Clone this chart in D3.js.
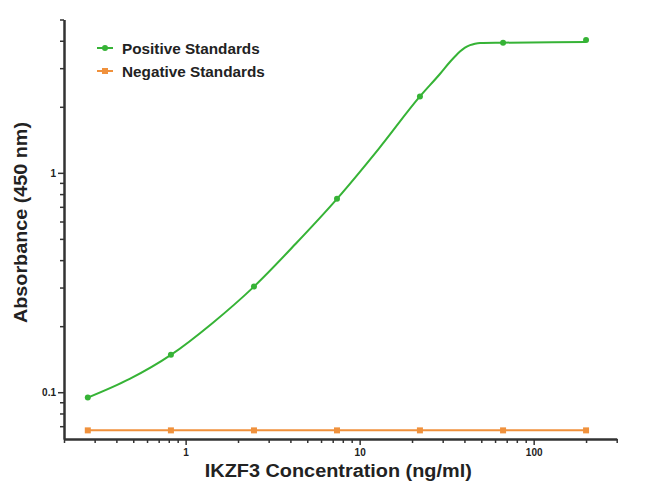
<!DOCTYPE html>
<html>
<head>
<meta charset="utf-8">
<script src="https://cdn.jsdelivr.net/npm/d3@7"></script>
<style>
  html, body { margin: 0; padding: 0; background: #fff; }
  svg { display: block; font-family: Arial, "Liberation Sans", sans-serif; }
</style>
</head>
<body>
<svg id="chart" width="650" height="494"></svg>
<script>
// ---- data ----
const concentrations = [0.274, 0.823, 2.47, 7.41, 22.2, 66.7, 200];
const positiveValues = [0.0945, 0.148, 0.303, 0.761, 2.23, 3.92, 4.03];
const negativeValues = [0.067, 0.067, 0.067, 0.067, 0.067, 0.067, 0.067];
// fitted standard curve
const fitConc = [0.274, 0.477, 0.823, 1.43, 2.47, 4.29, 7.41, 12.9, 22.2, 29.0, 33.0, 35.3, 37.7, 40.3, 43.1, 46.0, 49.2, 66.7, 200];
const fitAbs  = [0.0945, 0.115, 0.148, 0.207, 0.303, 0.475, 0.761, 1.29, 2.23, 2.83, 3.20, 3.39, 3.57, 3.72, 3.82, 3.88, 3.91, 3.92, 3.95];
const xMajorTicks = [1, 10, 100];
const xMinorTicks = [0.2, 0.3, 0.4, 0.5, 0.6, 0.7, 0.8, 0.9, 2, 3, 4, 5, 6, 7, 8, 9, 20, 30, 40, 50, 60, 70, 80, 90, 200, 300];
const yMajorTicks = [0.1, 1];
const yMinorTicks = [0.07, 0.08, 0.09, 0.2, 0.3, 0.4, 0.5, 0.6, 0.7, 0.8, 0.9, 2, 3, 4, 5];
const seriesNames = ["Positive Standards", "Negative Standards"];
const xTitle = "IKZF3 Concentration (ng/ml)";
const yTitle = "Absorbance (450 nm)";

// ---- layout ----
const green = "#36b336", orange = "#f0913c", axisColor = "#333";
const svg = d3.select("#chart");
const x = d3.scaleLog().domain([0.2, 300]).range([64, 616.7]);
const y = d3.scaleLog().domain([0.0612, 5]).range([439, 19.5]);

function styleAxis(g) {
  g.select(".domain").attr("stroke", axisColor).attr("stroke-width", 2);
  g.selectAll(".tick line").attr("stroke", axisColor).attr("stroke-width", 1.5);
  g.selectAll(".tick text").attr("fill", "#222").attr("font-size", 10).attr("font-weight", "bold");
}

// minor ticks
svg.append("g").attr("transform", "translate(0,439)")
  .call(d3.axisBottom(x).tickValues(xMinorTicks).tickFormat("").tickSize(4).tickSizeOuter(0))
  .call(styleAxis);
svg.append("g").attr("transform", "translate(64,0)")
  .call(d3.axisLeft(y).tickValues(yMinorTicks).tickFormat("").tickSize(4).tickSizeOuter(0))
  .call(styleAxis);
// major ticks
svg.append("g").attr("transform", "translate(0,439)")
  .call(d3.axisBottom(x).tickValues(xMajorTicks).tickFormat(d3.format("")).tickSize(6).tickSizeOuter(0).tickPadding(4))
  .call(styleAxis);
svg.append("g").attr("transform", "translate(64,0)")
  .call(d3.axisLeft(y).tickValues(yMajorTicks).tickFormat(d => String(d)).tickSize(6).tickSizeOuter(0).tickPadding(2))
  .call(styleAxis);

// fitted curve
const fitData = fitConc.map((c, i) => [c, fitAbs[i]]);
svg.append("path").datum(fitData)
  .attr("fill", "none").attr("stroke", green).attr("stroke-width", 2)
  .attr("d", d3.line().x(d => x(d[0])).y(d => y(d[1])).curve(d3.curveMonotoneX));

// negative line
const negData = concentrations.map((c, i) => [c, negativeValues[i]]);
svg.append("path").datum(negData)
  .attr("fill", "none").attr("stroke", orange).attr("stroke-width", 2)
  .attr("d", d3.line().x(d => x(d[0])).y(d => y(d[1])));

// markers
svg.append("g").selectAll("circle").data(concentrations.map((c, i) => [c, positiveValues[i]]))
  .join("circle").attr("cx", d => x(d[0])).attr("cy", d => y(d[1])).attr("r", 3).attr("fill", green);
svg.append("g").selectAll("rect").data(negData)
  .join("rect").attr("x", d => x(d[0]) - 3).attr("y", d => y(d[1]) - 3)
  .attr("width", 6).attr("height", 6).attr("fill", orange);

// legend
const legend = svg.append("g");
[[green, "circle"], [orange, "rect"]].forEach(([col, shape], i) => {
  const ly = 48 + i * 23;
  legend.append("line").attr("x1", 97).attr("x2", 113).attr("y1", ly).attr("y2", ly)
    .attr("stroke", col).attr("stroke-width", 2);
  if (shape === "circle") legend.append("circle").attr("cx", 105).attr("cy", ly).attr("r", 3).attr("fill", col);
  else legend.append("rect").attr("x", 102).attr("y", ly - 3).attr("width", 6).attr("height", 6).attr("fill", col);
  legend.append("text").attr("x", 122).attr("y", ly + 5.5)
    .attr("font-size", 15.3).attr("font-weight", "bold").attr("fill", "#222")
    .text(seriesNames[i]);
});

// titles
svg.append("text").attr("x", 338.3).attr("y", 477).attr("text-anchor", "middle")
  .attr("font-size", 17.5).attr("font-weight", "bold").attr("fill", "#222")
  .attr("textLength", 267).attr("lengthAdjust", "spacingAndGlyphs")
  .text(xTitle);
svg.append("text").attr("transform", "translate(27,222.5) rotate(-90)").attr("text-anchor", "middle")
  .attr("font-size", 17.5).attr("font-weight", "bold").attr("fill", "#222")
  .attr("textLength", 201).attr("lengthAdjust", "spacingAndGlyphs")
  .text(yTitle);
</script>
</body>
</html>
